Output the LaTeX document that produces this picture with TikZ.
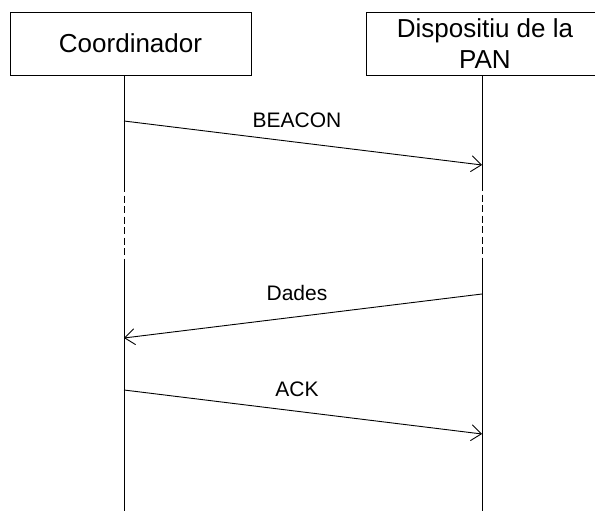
\documentclass[tikz,border=0pt]{standalone}
\usepackage{fontspec}
\setmainfont{Liberation Sans}
\usetikzlibrary{arrows.meta,positioning}

\begin{document}
\begin{tikzpicture}[x=1pt,y=-1pt,
    actor/.style={draw, line width=0.9pt, minimum width=241pt, minimum height=63pt,
      inner sep=0pt, align=center, font=\fontsize{26}{31}\selectfont},
    life/.style={line width=0.9pt},
    idle/.style={line width=0.9pt, dash pattern=on 7pt off 3.5pt},
    msg/.style={line width=0.9pt, -{Straight Barb[length=10pt,width=16pt]}},
    lbl/.style={midway, above=12pt, xshift=-6pt, font=\fontsize{21}{25}\selectfont}]
  \useasboundingbox (0,0) rectangle (595,511);
  \clip (0,0) rectangle (595,511);
  \def\cx{124}
  \def\px{482}

  % the two parties
  \node[actor] (coord) at (130.5,43.5) {Coordinador};
  \node[actor, minimum width=238pt] (pan) at (485,43.5) {Dispositiu de la\\PAN};

  % lifelines, dashed while nothing happens
  \coordinate (cgap1) at (\cx,185);
  \coordinate (cgap2) at (\cx,261);
  \coordinate (cend) at (\cx,511);
  \coordinate (pgap1) at (\px,184);
  \coordinate (pgap2) at (\px,261);
  \coordinate (pend) at (\px,511);
  \draw[life] (coord.south -| cgap1) -- (cgap1);
  \draw[idle] (cgap1) -- (cgap2);
  \draw[life] (cgap2) -- (cend);
  \draw[life] (pan.south -| pgap1) -- (pgap1);
  \draw[idle] (pgap1) -- (pgap2);
  \draw[life] (pgap2) -- (pend);

  % messages
  \coordinate (c-beacon) at (\cx,121);
  \coordinate (p-beacon) at (\px,165);
  \coordinate (p-dades) at (\px,294);
  \coordinate (c-dades) at (\cx,338);
  \coordinate (c-ack) at (\cx,390);
  \coordinate (p-ack) at (\px,434);
  \draw[msg] (c-beacon) -- node[lbl] {BEACON} (p-beacon);
  \draw[msg] (p-dades) -- node[lbl] {Dades} (c-dades);
  \draw[msg] (c-ack) -- node[lbl] {ACK} (p-ack);
\end{tikzpicture}
\end{document}
